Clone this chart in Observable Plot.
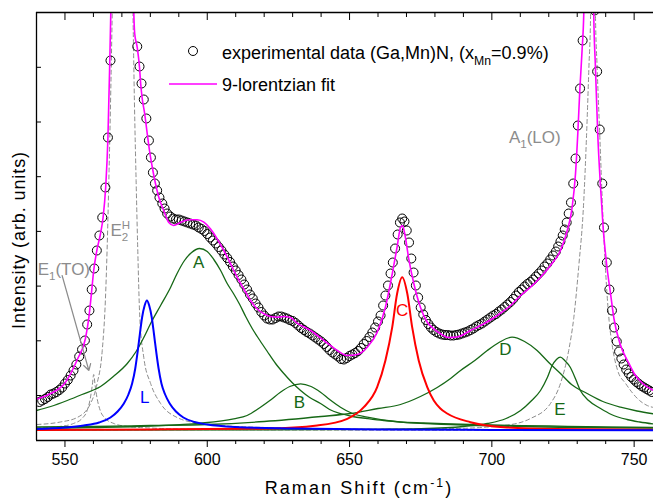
<!DOCTYPE html>
<html><head><meta charset="utf-8">
<script src="https://cdn.jsdelivr.net/npm/d3@7"></script>
<script src="https://cdn.jsdelivr.net/npm/@observablehq/plot@0.6"></script>
<style>
body{margin:0;background:#fff;}
#chart svg{font-family:"Liberation Sans",Arial,sans-serif;}
</style>
</head><body><div id="chart"></div>
<script>
// ---------- data (Raman shift in cm^-1, intensity in arbitrary units) ----------
const expX = [541,542,543,544,545,546,547,548,549,550,551,552,553,554,555,556,557,557.8,558.6,559.4,560.3,561.2,562.1,563.1,564.2,565.1,566.0,
575.4,576.2,576.9,577.7,578.6,579.5,580.2,580.9,581.6,582.4,583.2,584.2,585.0,585.9,587.0,588.0,589.0,
590,591,592,593,594,595,596,597,598,599,600,601,602,603,604,605,606,607,608,609,610,611,612,613,614,615,616,617,618,619,620,621,622,623,624,625,626,627,628,629,
630,631,632,633,634,635,636,637,638,639,640,641,642,643,644,645,646,647,648,649,650,651,652,653,654,655,656,657,658,659,660,
660.9,661.8,662.6,663.5,664.4,665.2,666.0,666.9,667.7,668.5,669.3,670.1,670.9,671.7,672.5,673.3,674.1,675.0,675.9,676.8,677.7,678.6,679.5,680.5,681.5,682.5,683.5,
684.5,685.5,686.5,687.5,688.5,689.5,690.5,691.5,692.5,693.5,694.5,695.5,696.5,697.5,698.5,699.5,700.5,701.5,702.5,703.5,704.5,705.5,706.5,707.5,708.5,709.5,
710.5,711.5,712.5,713.5,714.5,715.5,716.5,717.5,718.5,719.5,720.5,721.5,722.5,723.3,724.1,724.9,725.6,726.3,727.0,727.8,728.6,729.4,730.2,731.0,731.9,
736.1,737.0,737.9,738.8,739.4,740.4,741.3,742.2,743.0,743.9,744.7,745.5,746.3,747.2,748.1,749.0,749.9,750.8,751.7,752.6,753.5,754.4,755.3,756.2];
const expI = [28.5,30,31.5,33.5,36,37,38.5,40.5,43,47,50.5,55,60,66,74,81,90,106,120,141,162,180,195,213,243,293,370,
384,364,347,331,312,290,273,258,247,240,233,227,222,217,214,212,211,
211,210,209,208,207,206,205,203,201.5,199.5,196.5,193,190,187,183.5,180,176,172.5,168.5,164,160,155.5,151,146,141,136,132,127,123,118.5,115,112,111,111,112.5,114,114,113,112,110.5,
109.5,107.5,105,102.5,100.5,98.5,97,95,93,91,89,86.5,83.5,80.5,78,76,74,71.5,71,72.5,74.5,76,77.5,79.5,82.5,86.5,89.5,93.5,98,103,109,
115,125,135,145,157,168,182,196,208,212,209,200,188,172,158,145,133,123,116,110.5,106.5,103,100.5,98.5,97,96,95.5,
95.5,95,95,95.5,96,97,98,99,100.5,102,104,105.5,107,109,111,113,115,116.5,119,121,123.5,126,128.5,131.5,135,138.5,
141,144,146.5,148.5,151,154,157,160,164,167,171,175,179,184,189,195,201,208,217,228,247,272,305,342,390,
420,359,301,247,203,168,141,120,103,89,79,72,66,61,57,53.5,51,48.5,46.5,44.5,43,41.5,40,38.5];

// 9-lorentzian fit (sum curve)
const fitCurve = [[540.2,31.5],[545,37],[550,47.5],[554.5,72],[557.2,92],[558.4,113],[559.3,137],[560.1,160],[561.2,180],[562.5,197],[563.4,213],[564.3,243],[565.1,293],[565.7,363],[566.1,417],[567.3,700],[570.2,1100],[573.1,700],
[574.2,417],[574.5,397],[575.4,383],[576.2,363],[576.6,347],[577.1,333],[578,317],[578.9,297],[579.7,280],[580.7,263],[581.8,247],[583,233],[584.7,220],[586.5,208],[588.2,205],[590.6,208],[593.5,210.7],[596.5,210.7],[598.8,208.3],
[601.1,201.7],[603.5,191.7],[605.8,180],[608.2,166.7],[610.5,153.3],[612.8,141.7],[615.2,130],[617.5,121.7],[619.9,116.7],[622.2,114],[624.6,113.3],[626.9,114],[629.2,113],[631.6,107.3],[636.3,100],[641,90],[645.7,80],[649.2,75],[652.7,76],
[656.2,83.3],[659.7,98.3],[662.6,123.3],[665,156.7],[666.7,183.3],[667.9,203],[668.6,205],[669.3,198],[670.8,171.7],[672.6,146.7],[674.9,123.3],[677.3,108.3],[679.6,101.7],[682,96.7],[684.6,93],[687.8,93.5],[692.5,100],[697.2,106.7],
[701.9,115],[706.6,125],[710.1,135],[713.6,143.3],[717.1,153.3],[720.6,165],[724.1,180],[726.5,200],[728.2,223],[729.4,257],[730.2,297],[730.9,340],[731.7,380],[732.3,417],[733.4,650],[734.2,760],[735.0,650],[735.8,417],
[736.4,363],[737.2,297],[738.2,243],[739.1,203],[740.3,167],[741.7,137],[742.9,112],[745,87],[748,68],[750,57],[753,47],[756.8,40]];

// individual lorentzian components
const compE1TO = [[540,2.5],[548,4],[553,7],[556,12],[557.8,20],[558.9,32],[559.6,45],[560.1,56],[560.6,45],[561.3,32],[562.4,20],[564.2,12],[567.2,7],[572,4],[580,2.5],[600,1],[650,0.4],[757,0.2]];
const compE2H = [[540.2,6],[548.4,8.5],[554.3,13],[559,27],[561.3,47],[563.1,80],[564.2,130],[564.8,180],[565.5,260],[566.1,340],[566.6,417],[567.8,650],[570.2,1000],[572.6,650],
[573.9,417],[574.4,330],[575,250],[575.5,190],[576.3,113],[577.7,73],[580.1,47],[583.6,27],[589.4,13],[597.6,7],[604.7,5],[620,3],[650,1.5],[700,1],[757,0.5]];
const compA1LO = [[540,0.5],[600,0.8],[650,1.2],[686.6,2],[704.2,5],[713.6,12],[720.6,27],[724.1,47],[727,80],[728.8,113],[730.5,163],[732.3,230],[733.3,297],[734.1,363],[734.7,417],[735.6,700],
[736.4,417],[737,363],[737.9,297],[738.8,230],[739.9,163],[741.2,110],[742.3,85],[744.2,60],[747,47],[751.9,30],[754.6,25],[756.8,23]];
const compL = [[540,1.5],[550,3],[556.6,5],[562,8],[566,13],[568.5,19],[570.7,27],[572.3,36],[573.6,47],[574.7,62],[575.5,78],[576.3,96],[577.1,113],[578,125],[578.8,130],[579.6,125],[580.5,113],[581.3,96],[582.1,78],[582.9,62],[583.9,47],
[585.2,36],[586.8,27],[589,19],[591.6,13],[595.5,8.5],[600,6],[610,3.5],[630,2],[660,1],[700,0.6],[757,0.3]];
const compA = [[540,20],[545,24],[550.8,30],[556,36],[562.5,44],[567,54],[571.9,67],[575,79],[577.7,93],[580.1,107],[583.6,125],[587.1,143],[589.4,157],[592,170],[594.5,178],[597.3,182],[600,179],[602.3,171],[604.7,160],[607,147],
[609.2,137],[611.4,126],[613.5,114],[615.8,102],[618.5,90],[621.1,79],[624,67],[626.9,57],[629.8,48],[632.8,40],[636,33],[639.8,27],[643,21],[646.8,17],[651,14],[656.2,12],[662,10],[667.9,8.5],[676,7.5],[685.5,6.5],[700,5.5],[720,4.5],[740,3.5],[757,3]];
const compB = [[540,2],[560,3],[580,4.5],[597.6,7.3],[609.3,11.7],[614,15],[618.7,23.3],[622,30],[625.7,38.3],[629,44],[632.8,46.7],[636.5,44],[639.8,38.3],[643,31],[646.8,23.3],[651,17],[656.2,13.3],[667.9,8.3],[685.5,6],[710,4],[757,2.5]];
const compC = [[540,0.5],[580,1],[600,1.5],[621,2],[638.6,5],[649.2,11.7],[655,23.3],[659.7,43.3],[662.6,70],[665,103.3],[666.7,136.7],[668.5,153.3],[670.3,136.7],[672,103.3],[674.3,70],[677.3,43.3],[679.6,30],[681.9,22],[684.3,17],[692.5,8.3],[704.2,3.3],[721.8,1.5],[757,0.8]];
const compD = [[540,3.5],[560,4],[580,5],[600,6],[620,9],[640,14],[650.3,17],[660,22],[667.9,26],[674.9,34],[680.8,43],[685.5,52],[689,60],[694,70],[698.4,80],[702.5,88],[707.1,93.3],[711.5,89],[715.9,80],[720,68],[724.1,57],[728,46],[733.5,37],[739,29],[745.2,23.3],[751,19.5],[756.8,16.7]];
const compE = [[540,0.3],[620,0.6],[660,1.2],[675,1.8],[690,4],[698.4,7],[705,12],[710.1,20],[714,30],[717.1,40],[719.5,53],[721.2,65],[722.7,71],[724.1,73.3],[725.6,70],[727.6,63],[729.5,51],[731.1,40],[734,30],[738.2,22],[742,16],[747.5,11],[752,8.5],[756.8,6.5]];

// labels
const lblText = ["A","B","C","D","E","L","E_{2}^{H}","E_{1}(TO)","A_{1}(LO)"];
const lblX = [597,632.4,668.5,704.8,723.9,578,566,540.4,706];
const lblY = [168,28,120,81,21,33,200,161,293];
const lblAnchor = ["middle","middle","middle","middle","middle","middle","start","start","start"];
const lblColor = ["#166816","#166816","#ff0000","#166816","#166816","#0000ff","#8c8c8c","#8c8c8c","#8c8c8c"];
const arrowFrom = [549, 155];
const arrowTo = [558.4, 60];

// axes
const xDomain = [540, 756.8];
const yDomain = [-10, 418];
const xMajor = [550,600,650,700,750];
const xMinor = [560,570,580,590,610,620,630,640,660,670,680,690,710,720,730,740];
const yTicks = [35,89.7,144.4,199.1,253.8,308.5,363.2];
const xTitle = "Raman Shift (cm^{-1})";
const yTitle = "Intensity (arb. units)";
const legendExp = "experimental data (Ga,Mn)N, (x_{Mn}=0.9%)";
const legendFit = "9-lorentzian fit";

// ---------- build ----------
const GREEN = "#166816", GRAY = "#8c8c8c";
const exp = expX.map((x, i) => ({x, y: expI[i]}));
const labels = lblText.map((t, i) => ({t, x: lblX[i], y: lblY[i], a: lblAnchor[i], c: lblColor[i]}));
const px = d => d[0], py = d => d[1];
const curve = "monotone-x";
const comp = (data, stroke, extra = {}) => Plot.line(data, {x: px, y: py, stroke, strokeWidth: 1.3, curve, clip: true, ...extra});

const chart = Plot.plot({
  width: 653, height: 500,
  marginLeft: 36, marginRight: 0, marginTop: 12, marginBottom: 60,
  style: {fontFamily: "'Liberation Sans', Arial, sans-serif", fontSize: "16px", background: "#fff", color: "#000"},
  x: {domain: xDomain, label: null},
  y: {domain: yDomain, label: null},
  marks: [
    comp(compE1TO, GRAY, {strokeDasharray: "4,3", strokeWidth: 1}),
    comp(compE2H, GRAY, {strokeDasharray: "4,3", strokeWidth: 1}),
    comp(compA1LO, GRAY, {strokeDasharray: "4,3", strokeWidth: 1}),
    comp(compA, GREEN),
    comp(compB, GREEN),
    comp(compD, GREEN),
    comp(compE, GREEN),
    comp(compC, "#ff0000", {strokeWidth: 2}),
    comp(compL, "#0000ff", {strokeWidth: 2}),
    Plot.dot(exp, {x: "x", y: "y", r: 4.5, stroke: "#000", strokeWidth: 1, fill: "none", clip: true}),
    comp(fitCurve, "#ff00ff", {strokeWidth: 1.6}),
    Plot.text(labels, {filter: d => d.a === "middle", x: "x", y: "y", text: "t", fill: "c", textAnchor: "middle", fontSize: 17}),
    Plot.text(labels, {filter: d => d.a === "start", x: "x", y: "y", text: "t", fill: "c", textAnchor: "start", fontSize: 17}),
    Plot.arrow([0], {x1: () => arrowFrom[0], y1: () => arrowFrom[1], x2: () => arrowTo[0], y2: () => arrowTo[1], stroke: GRAY, strokeWidth: 1.2, headLength: 9}),
    Plot.axisX({anchor: "bottom", ticks: xMinor, tickSize: 4, tickFormat: () => ""}),
    Plot.axisX({anchor: "bottom", ticks: xMajor, tickSize: 7, tickPadding: 6, tickFormat: d => String(d), fontSize: 16}),
    Plot.axisX({anchor: "top", ticks: xMinor, tickSize: -4, tickFormat: () => ""}),
    Plot.axisX({anchor: "top", ticks: xMajor, tickSize: -7, tickFormat: () => ""}),
    Plot.axisY({anchor: "left", ticks: yTicks, tickSize: -5, tickFormat: () => ""}),
    Plot.ruleX([xDomain[0]], {strokeWidth: 1.3}),
    Plot.ruleY([yDomain[0], yDomain[1]], {strokeWidth: 1.3}),
    Plot.text([xTitle], {text: d => d, frameAnchor: "bottom", textAnchor: "middle", lineAnchor: "middle", dx: 14, dy: 48, fontSize: 18}),
    Plot.text([yTitle], {text: d => d, frameAnchor: "left", textAnchor: "middle", lineAnchor: "middle", dx: -17, dy: 13.5, rotate: -90, fontSize: 18})
  ]
});
document.getElementById("chart").appendChild(chart);

// ---------- legend ----------
const svg = d3.select(chart);
const lg = svg.append("g").attr("font-family", "'Liberation Sans', Arial, sans-serif").attr("font-size", 18).attr("text-anchor", "start").attr("fill", "#000");
lg.append("circle").attr("cx", 193).attr("cy", 51).attr("r", 4.5).attr("fill", "none").attr("stroke", "#000");
lg.append("text").attr("x", 222).attr("y", 59).text(legendExp);
lg.append("line").attr("x1", 169).attr("x2", 217).attr("y1", 84).attr("y2", 84).attr("stroke", "#ff00ff").attr("stroke-width", 1.6);
lg.append("text").attr("x", 222).attr("y", 91).text(legendFit);

// axis titles: spaced letters as in the original
chart.querySelectorAll("text").forEach(el => {
  if (el.textContent === xTitle) el.style.letterSpacing = "2.1px";
  if (el.textContent === yTitle) el.style.letterSpacing = "0.9px";
});

// ---------- sub/superscript markup -> tspans ----------
const SVGNS = "http://www.w3.org/2000/svg";
chart.querySelectorAll("text").forEach(el => {
  const s = el.textContent;
  if (!/[_^]\{/.test(s)) return;
  const F = parseFloat(getComputedStyle(el).fontSize) || 16;
  const parts = s.match(/_\{[^}]*\}|\^\{[^}]*\}|[^_^]+/g);
  while (el.firstChild) el.removeChild(el.firstChild);
  let shift = 0, lastSub = null;
  for (const p of parts) {
    const ts = document.createElementNS(SVGNS, "tspan");
    let target = 0, txt = p;
    if (p.startsWith("_{")) { txt = p.slice(2, -1); target = 0.32 * F; ts.setAttribute("font-size", 0.68 * F); }
    else if (p.startsWith("^{")) { txt = p.slice(2, -1); target = -0.42 * F; ts.setAttribute("font-size", 0.68 * F); }
    ts.setAttribute("dy", target - shift);
    shift = target;
    ts.textContent = txt;
    el.appendChild(ts);
    if (p.startsWith("^{") && lastSub) ts.setAttribute("dx", -lastSub.getComputedTextLength());
    lastSub = p.startsWith("_{") ? ts : null;
  }
});
</script>
</body></html>
